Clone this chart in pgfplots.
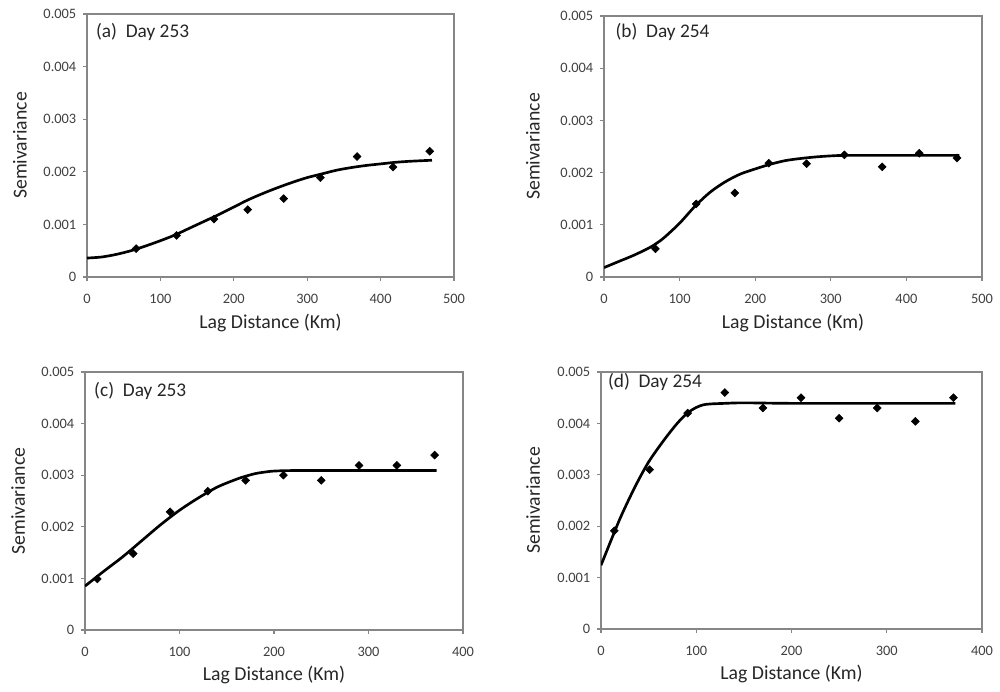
\documentclass[border=0pt]{standalone}
\usepackage{fontspec}
\setmainfont{Carlito}
\usepackage{pgfplots}
\pgfplotsset{compat=1.18}

\definecolor{axgray}{HTML}{868686}
\definecolor{tickgray}{HTML}{404040}

\tikzset{lab/.style={anchor=west, font=\fontsize{14.5}{16}\selectfont, text=black!85}}

\pgfplotsset{
  semi/.style={
    scale only axis,
    anchor=south west,
    axis line style={axgray, line width=0.8pt},
    tick style={axgray, line width=0.8pt},
    tick align=outside,
    major tick length=3pt,
    tick pos=left,
    /pgf/number format/assume math mode=true,
    ticklabel style={font=\fontsize{10.8}{12}\selectfont, text=tickgray},
    xticklabel style={yshift=-6.5pt},
    yticklabel style={xshift=-1.5pt},
    label style={font=\fontsize{14.8}{16}\selectfont, text=black!85},
    ymin=0, ymax=0.005,
    ytick={0,0.001,0.002,0.003,0.004,0.005},
    yticklabels={0,0.001,0.002,0.003,0.004,0.005},
    scaled y ticks=false,
    xlabel={Lag Distance (Km)},
    ylabel={Semivariance},
    xlabel style={at={(axis description cs:0.5,-0.175)}, anchor=center},
  },
  pts/.style={only marks, mark=square*, mark size=2.1pt,
    mark options={rotate=45, fill=black, draw=black}, color=black},
  fit/.style={no marks, smooth, black, line width=2pt},
}

\begin{document}
\begin{tikzpicture}
\path[use as bounding box] (0,0) rectangle (750pt,519pt);

% (a) Day 253
\begin{axis}[semi, at={(65.25pt,311.25pt)}, width=275.25pt, height=197.25pt,
  xmin=0, xmax=500, xtick={0,100,200,300,400,500},
  ylabel style={at={(axis description cs:-0.183,0.5)}, anchor=center}]
\addplot[fit] coordinates {
 (0,0.00036)(20,0.00038)(40,0.00043)(60,0.00050)(80,0.00059)(100,0.00069)
 (120,0.00080)(140,0.00093)(160,0.00106)(180,0.00119)(200,0.00133)
 (220,0.00147)(240,0.00159)(260,0.00170)(280,0.00180)(300,0.00189)
 (320,0.00196)(340,0.00203)(360,0.00208)(380,0.00212)(400,0.00215)
 (420,0.00218)(440,0.00220)(470,0.00222)};
\addplot[pts] coordinates {
 (67,0.00054)(122,0.00079)(173,0.00110)(219,0.00128)(268,0.00149)
 (318,0.00189)(368,0.00229)(417,0.00209)(467,0.00239)};
\node[lab] at (axis description cs:0.012,0.93) {(a)\ \ Day 253};
\end{axis}

% (b) Day 254
\begin{axis}[semi, at={(453pt,311.25pt)}, width=283.5pt, height=195.75pt,
  xmin=0, xmax=500, xtick={0,100,200,300,400,500},
  ylabel style={at={(axis description cs:-0.188,0.5)}, anchor=center}]
\addplot[fit] coordinates {
 (0,0.00018)(20,0.00030)(40,0.00042)(60,0.00056)(70,0.00065)(80,0.00076)
 (100,0.00103)(120,0.00135)(140,0.00162)(160,0.00182)(180,0.00197)
 (200,0.00207)(220,0.00216)(240,0.00223)(260,0.00227)(280,0.00230)
 (300,0.00232)(320,0.00233)(370,0.00233)(420,0.00233)(470,0.00233)};
\addplot[pts] coordinates {
 (68,0.00054)(122,0.00140)(173,0.00161)(218,0.00218)(268,0.00217)
 (318,0.00234)(368,0.00211)(417,0.00237)(467,0.00228)};
\node[lab] at (axis description cs:0.018,0.94) {(b)\ \ Day 254};
\end{axis}

% (c) Day 253
\begin{axis}[semi, at={(63.75pt,46.5pt)}, width=283.5pt, height=193.5pt,
  xmin=0, xmax=400, xtick={0,100,200,300,400},
  ylabel style={at={(axis description cs:-0.177,0.5)}, anchor=center}]
\addplot[fit] coordinates {
 (0,0.00085)(20,0.00114)(40,0.00142)(60,0.00173)(80,0.00204)(100,0.00232)
 (120,0.00256)(140,0.00277)(160,0.00292)(170,0.00298)(180,0.00303)
 (190,0.00306)(200,0.00308)(220,0.00309)(260,0.00309)(320,0.00309)(372,0.00309)};
\addplot[pts] coordinates {
 (13,0.00099)(51,0.00148)(90,0.00229)(130,0.00269)(170,0.00290)
 (210,0.00300)(250,0.00290)(290,0.00319)(330,0.00319)(370,0.00339)};
\node[lab] at (axis description cs:0.012,0.925) {(c)\ \ Day 253};
\end{axis}

% (d) Day 254
\begin{axis}[semi, at={(450.75pt,47.25pt)}, width=285.75pt, height=192.75pt,
  xmin=0, xmax=400, xtick={0,100,200,300,400},
  ylabel style={at={(axis description cs:-0.178,0.5)}, anchor=center}]
\addplot[fit] coordinates {
 (0,0.00124)(10,0.00170)(20,0.00215)(30,0.00255)(40,0.00292)(50,0.00325)
 (60,0.00352)(70,0.00377)(80,0.00400)(90,0.00419)(100,0.00431)
 (110,0.00437)(130,0.00439)(150,0.00440)(200,0.00439)(280,0.00439)(372,0.00439)};
\addplot[pts] coordinates {
 (14,0.00191)(51,0.00310)(91,0.00420)(130,0.00460)(170,0.00430)
 (210,0.00450)(250,0.00410)(290,0.00430)(330,0.00404)(370,0.00450)};
\node[lab] at (axis description cs:0.006,0.96) {(d)\ \ Day 254};
\end{axis}
\end{tikzpicture}
\end{document}
